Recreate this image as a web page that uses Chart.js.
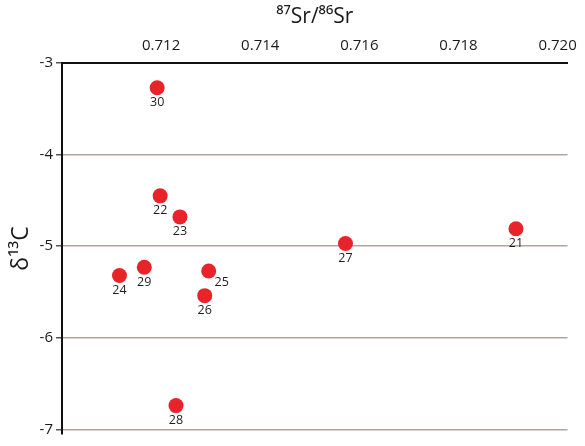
<!DOCTYPE html>
<html>
<head>
<meta charset="utf-8">
<script src="https://cdn.jsdelivr.net/npm/chart.js@4/dist/chart.umd.min.js"></script>
<style>
  html, body { margin: 0; padding: 0; background: #ffffff; }
  #wrap { width: 585px; height: 446px; }
</style>
</head>
<body>
<div id="wrap"><canvas id="c" width="585" height="446"></canvas></div>
<script>
// ---- data ----
const sampleIds = ['30', '22', '23', '24', '29', '25', '26', '28', '27', '21'];
const srRatio   = [0.71192, 0.71198, 0.71238, 0.71116, 0.71166, 0.71296, 0.71288, 0.71230, 0.71572, 0.71916];
const d13C      = [-3.27, -4.45, -4.68, -5.32, -5.23, -5.27, -5.54, -6.74, -4.97, -4.81];
const xTicks    = [0.712, 0.714, 0.716, 0.718, 0.720];
const yTicks    = [-3, -4, -5, -6, -7];

// label placement (style only): offsets relative to each point
const labelOffsets = { '25': [13, 11] };

const points = srRatio.map((x, i) => ({ x: x, y: d13C[i] }));

const pointLabels = {
  id: 'pointLabels',
  afterDatasetsDraw(chart) {
    const ctx = chart.ctx;
    const meta = chart.getDatasetMeta(0);
    ctx.save();
    ctx.font = '500 12.5px "Open Sans", "Noto Sans", sans-serif';
    ctx.fillStyle = '#1e1e1e';
    ctx.textAlign = 'center';
    ctx.textBaseline = 'middle';
    meta.data.forEach((el, i) => {
      const id = sampleIds[i];
      const off = labelOffsets[id] || [0, 15];
      ctx.fillText(id, el.x + off[0], el.y + off[1]);
    });
    ctx.restore();
  }
};

new Chart(document.getElementById('c'), {
  type: 'scatter',
  data: {
    datasets: [{
      data: points,
      backgroundColor: '#e8242a',
      borderWidth: 0,
      pointRadius: 7.5,
      pointHoverRadius: 7.5
    }]
  },
  options: {
    responsive: false,
    animation: false,
    devicePixelRatio: 1,
    layout: { padding: { left: 0, right: 14, top: 0, bottom: 5 } },
    plugins: {
      legend: { display: false },
      tooltip: { enabled: false }
    },
    scales: {
      x: {
        type: 'linear',
        position: 'top',
        min: 0.710,
        max: 0.7202,
        afterBuildTicks: (s) => { s.ticks = xTicks.map(v => ({ value: v })); },
        afterFit: (s) => { s.height = 63; },
        ticks: {
          padding: 8,
          color: '#1a1a1a',
          font: { family: '"Open Sans", "Noto Sans", sans-serif', size: 15 },
          callback: (v) => Number(v).toFixed(3),
          maxRotation: 0
        },
        grid: { display: false, drawTicks: false },
        border: { display: true, color: '#111111', width: 2 },
        title: {
          display: true,
          text: '⁸⁷Sr/⁸⁶Sr',
          color: '#1a1a1a',
          font: { family: '"Open Sans", "Noto Sans", sans-serif', size: 21 },
          padding: { top: 4, bottom: 0 }
        }
      },
      y: {
        type: 'linear',
        position: 'left',
        min: -7.05,
        max: -3,
        afterBuildTicks: (s) => { s.ticks = yTicks.map(v => ({ value: v })); },
        afterFit: (s) => { s.width = 62; },
        ticks: {
          padding: 3,
          color: '#1a1a1a',
          font: { family: '"Open Sans", "Noto Sans", sans-serif', size: 15 },
          callback: (v) => String(v)
        },
        grid: {
          display: true,
          drawTicks: true,
          tickLength: 6,
          tickColor: '#555555',
          lineWidth: 1.5,
          color: (ctx) => (ctx.tick && ctx.tick.value === -3) ? 'rgba(0,0,0,0)' : '#b3a59d'
        },
        border: { display: true, color: '#111111', width: 2 },
        title: {
          display: true,
          text: 'δ¹³C',
          color: '#1a1a1a',
          font: { family: '"Open Sans", "Noto Sans", sans-serif', size: 23 },
          padding: { top: 8, bottom: 0 }
        }
      }
    }
  },
  plugins: [pointLabels]
});
</script>
</body>
</html>
